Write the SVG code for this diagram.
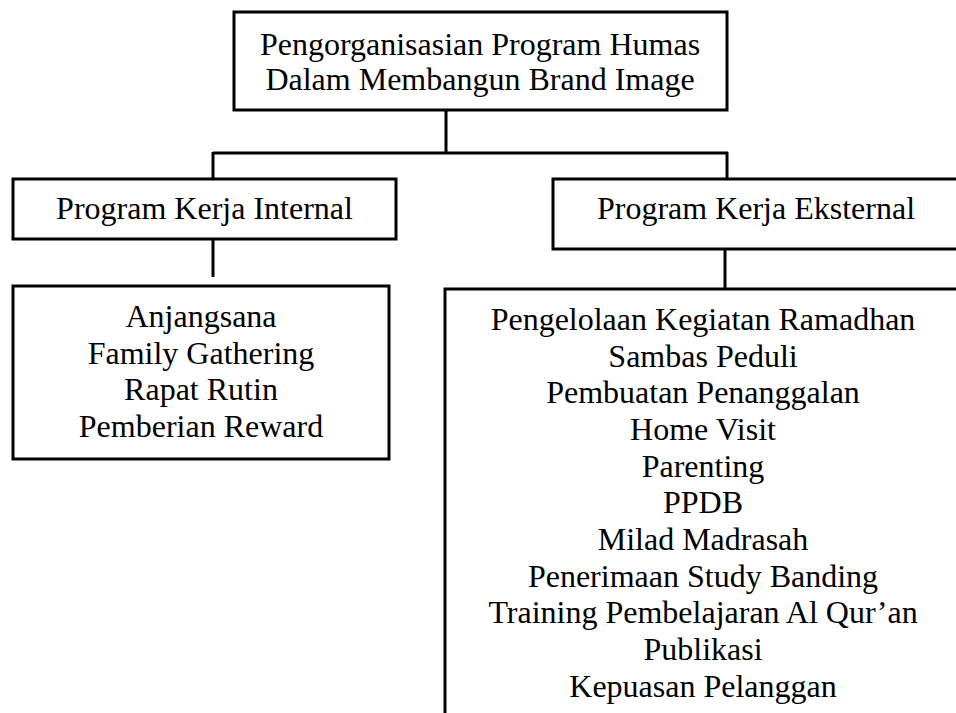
<svg xmlns="http://www.w3.org/2000/svg" width="956" height="713" viewBox="0 0 956 713">
<style>
.box{fill:#fff;stroke:#000;stroke-width:3}
.conn{fill:none;stroke:#000;stroke-width:3}
text{font-family:"Liberation Serif","Times New Roman",serif;font-size:32px;fill:#000;text-anchor:middle}
</style>
<rect width="956" height="713" fill="#fff"/>
<g id="connectors">
<line class="conn" x1="446" y1="110" x2="446" y2="153"/>
<line class="conn" x1="213" y1="153" x2="728" y2="153"/>
<line class="conn" x1="213" y1="152" x2="213" y2="180"/>
<line class="conn" x1="727" y1="152" x2="727" y2="181"/>
<line class="conn" x1="213" y1="239" x2="213" y2="277"/>
<line class="conn" x1="725" y1="249" x2="725" y2="289"/>
</g>
<g id="root">
<rect class="box" x="234" y="12" width="493" height="98"/>
<text x="480" y="55">Pengorganisasian Program Humas</text>
<text x="480" y="90">Dalam Membangun Brand Image</text>
</g>
<g id="internal">
<rect class="box" x="13" y="179" width="383" height="60"/>
<text x="204.5" y="219">Program Kerja Internal</text>
</g>
<g id="external">
<rect class="box" x="553" y="179" width="420" height="70"/>
<text x="756" y="219">Program Kerja Eksternal</text>
</g>
<g id="internal-list">
<rect class="box" x="13" y="286" width="376" height="173"/>
<text x="201" y="327">Anjangsana</text>
<text x="201" y="363.5">Family Gathering</text>
<text x="201" y="400">Rapat Rutin</text>
<text x="201" y="437">Pemberian Reward</text>
</g>
<g id="external-list">
<rect class="box" x="445" y="289" width="530" height="440"/>
<text x="703" y="330">Pengelolaan Kegiatan Ramadhan</text>
<text x="703" y="366.7">Sambas Peduli</text>
<text x="703" y="403.4">Pembuatan Penanggalan</text>
<text x="703" y="440">Home Visit</text>
<text x="703" y="476.7">Parenting</text>
<text x="703" y="513.4">PPDB</text>
<text x="703" y="550">Milad Madrasah</text>
<text x="703" y="586.7">Penerimaan Study Banding</text>
<text x="703" y="623.4">Training Pembelajaran Al Qur’an</text>
<text x="703" y="660">Publikasi</text>
<text x="703" y="696.7">Kepuasan Pelanggan</text>
</g>
</svg>
